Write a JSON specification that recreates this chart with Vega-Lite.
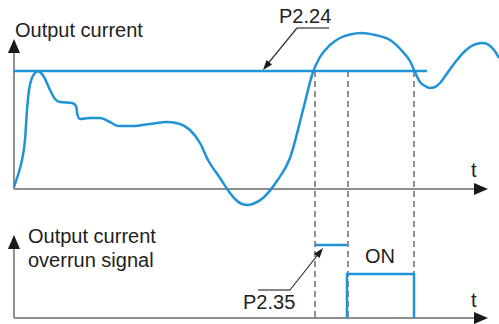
{
  "$schema": "https://vega.github.io/schema/vega-lite/v6.json",
  "width": 499,
  "height": 324,
  "padding": 0,
  "autosize": "none",
  "background": "white",
  "config": {"view": {"stroke": null}},
  "datasets": {
    "curve": [
      {"x": 14, "y": 187}, {"x": 18, "y": 175}, {"x": 22, "y": 160}, {"x": 25, "y": 140},
      {"x": 27, "y": 110}, {"x": 29, "y": 90}, {"x": 32, "y": 78}, {"x": 35, "y": 73},
      {"x": 38, "y": 71}, {"x": 41, "y": 73}, {"x": 44, "y": 77},
      {"x": 50, "y": 90}, {"x": 55, "y": 99}, {"x": 60, "y": 102}, {"x": 72, "y": 103},
      {"x": 76, "y": 106}, {"x": 77.5, "y": 115}, {"x": 80, "y": 119}, {"x": 90, "y": 118},
      {"x": 100, "y": 118}, {"x": 110, "y": 122}, {"x": 118, "y": 126}, {"x": 133, "y": 126},
      {"x": 150, "y": 124}, {"x": 167, "y": 122}, {"x": 180, "y": 124}, {"x": 190, "y": 130},
      {"x": 200, "y": 143}, {"x": 208, "y": 160}, {"x": 220, "y": 178}, {"x": 230, "y": 193},
      {"x": 236, "y": 200}, {"x": 242, "y": 204}, {"x": 248, "y": 205}, {"x": 255, "y": 203},
      {"x": 263, "y": 198}, {"x": 277, "y": 181},
      {"x": 290, "y": 158}, {"x": 303, "y": 110}, {"x": 313, "y": 72}, {"x": 320, "y": 57},
      {"x": 330, "y": 45}, {"x": 340, "y": 38}, {"x": 350, "y": 34.5}, {"x": 362, "y": 33},
      {"x": 375, "y": 35}, {"x": 390, "y": 40}, {"x": 403, "y": 52},
      {"x": 410, "y": 61}, {"x": 415, "y": 72}, {"x": 420, "y": 82}, {"x": 425, "y": 86},
      {"x": 430, "y": 88}, {"x": 435, "y": 87}, {"x": 440, "y": 83},
      {"x": 448, "y": 72}, {"x": 457, "y": 60}, {"x": 464, "y": 52}, {"x": 470, "y": 47},
      {"x": 476, "y": 44}, {"x": 483, "y": 43}, {"x": 489, "y": 45}, {"x": 494, "y": 50},
      {"x": 499, "y": 58}
    ],
    "dashes": [
      {"x": 315, "y": 71, "x2": 315, "y2": 318},
      {"x": 348, "y": 71, "x2": 348, "y2": 318},
      {"x": 414, "y": 71, "x2": 414, "y2": 318}
    ],
    "axes": [
      {"x": 14, "y": 48, "x2": 14, "y2": 189},
      {"x": 14, "y": 189, "x2": 478, "y2": 189},
      {"x": 14, "y": 244, "x2": 14, "y2": 318},
      {"x": 14, "y": 318, "x2": 478, "y2": 318}
    ],
    "threshold": [{"x": 14, "y": 71, "x2": 427, "y2": 71}],
    "signal": [
      {"seg": "a", "o": 1, "x": 315, "y": 245},
      {"seg": "a", "o": 2, "x": 347, "y": 245},
      {"seg": "b", "o": 1, "x": 347, "y": 318},
      {"seg": "b", "o": 2, "x": 347, "y": 274},
      {"seg": "b", "o": 3, "x": 414, "y": 274},
      {"seg": "b", "o": 4, "x": 414, "y": 318}
    ],
    "leaders": [
      {"x": 297, "y": 28, "x2": 329, "y2": 28},
      {"x": 297, "y": 28, "x2": 266, "y2": 66},
      {"x": 258, "y": 290, "x2": 290, "y2": 290},
      {"x": 290, "y": 290, "x2": 320, "y2": 252}
    ],
    "axisArrows": [
      {"x": 14, "y": 39, "a": 0},
      {"x": 488, "y": 189, "a": 90},
      {"x": 14, "y": 235, "a": 0},
      {"x": 488, "y": 318, "a": 90}
    ],
    "leaderArrows": [
      {"x": 263, "y": 70, "a": 219},
      {"x": 323, "y": 248, "a": 38}
    ],
    "labels": [
      {"x": 15, "y": 37, "t": "Output current"},
      {"x": 28, "y": 243, "t": "Output current"},
      {"x": 28, "y": 267, "t": "overrun signal"},
      {"x": 471, "y": 177, "t": "t"},
      {"x": 471, "y": 307, "t": "t"},
      {"x": 279, "y": 23, "t": "P2.24"},
      {"x": 365, "y": 263, "t": "ON"},
      {"x": 243, "y": 309, "t": "P2.35"}
    ]
  },
  "encoding": {
    "x": {"field": "x", "type": "quantitative", "scale": {"domain": [0, 499], "nice": false, "zero": false}, "axis": null},
    "y": {"field": "y", "type": "quantitative", "scale": {"domain": [0, 324], "nice": false, "zero": false, "reverse": true}, "axis": null}
  },
  "layer": [
    {
      "data": {"name": "dashes"},
      "mark": {"type": "rule", "color": "#555555", "strokeWidth": 1.3, "strokeDash": [6, 4]},
      "encoding": {"x2": {"field": "x2"}, "y2": {"field": "y2"}}
    },
    {
      "data": {"name": "axes"},
      "mark": {"type": "rule", "color": "#6a6a6a", "strokeWidth": 1.5},
      "encoding": {"x2": {"field": "x2"}, "y2": {"field": "y2"}}
    },
    {
      "data": {"name": "threshold"},
      "mark": {"type": "rule", "color": "#1f93d6", "strokeWidth": 2.5},
      "encoding": {"x2": {"field": "x2"}, "y2": {"field": "y2"}}
    },
    {
      "data": {"name": "curve"},
      "mark": {"type": "line", "color": "#1f93d6", "strokeWidth": 2.5, "interpolate": "monotone"},
      "encoding": {}
    },
    {
      "data": {"name": "signal"},
      "mark": {"type": "line", "color": "#1f93d6", "strokeWidth": 2.5, "strokeJoin": "miter"},
      "encoding": {
        "detail": {"field": "seg", "type": "nominal"},
        "order": {"field": "o", "type": "quantitative"}
      }
    },
    {
      "data": {"name": "leaders"},
      "mark": {"type": "rule", "color": "#333333", "strokeWidth": 1.2},
      "encoding": {"x2": {"field": "x2"}, "y2": {"field": "y2"}}
    },
    {
      "data": {"name": "axisArrows"},
      "mark": {"type": "point", "shape": "M0,0L-0.86,2L0.86,2Z", "filled": true, "opacity": 1, "color": "#1a1a1a", "size": 196, "strokeWidth": 0},
      "encoding": {"angle": {"field": "a", "type": "quantitative", "scale": null}}
    },
    {
      "data": {"name": "leaderArrows"},
      "mark": {"type": "point", "shape": "M0,0L-0.7,2L0.7,2Z", "filled": true, "opacity": 1, "color": "#1a1a1a", "size": 100, "strokeWidth": 0},
      "encoding": {"angle": {"field": "a", "type": "quantitative", "scale": null}}
    },
    {
      "data": {"name": "labels"},
      "mark": {"type": "text", "align": "left", "baseline": "alphabetic", "font": "Liberation Sans", "fontSize": 20, "color": "#222222"},
      "encoding": {"text": {"field": "t", "type": "nominal"}}
    }
  ]
}
